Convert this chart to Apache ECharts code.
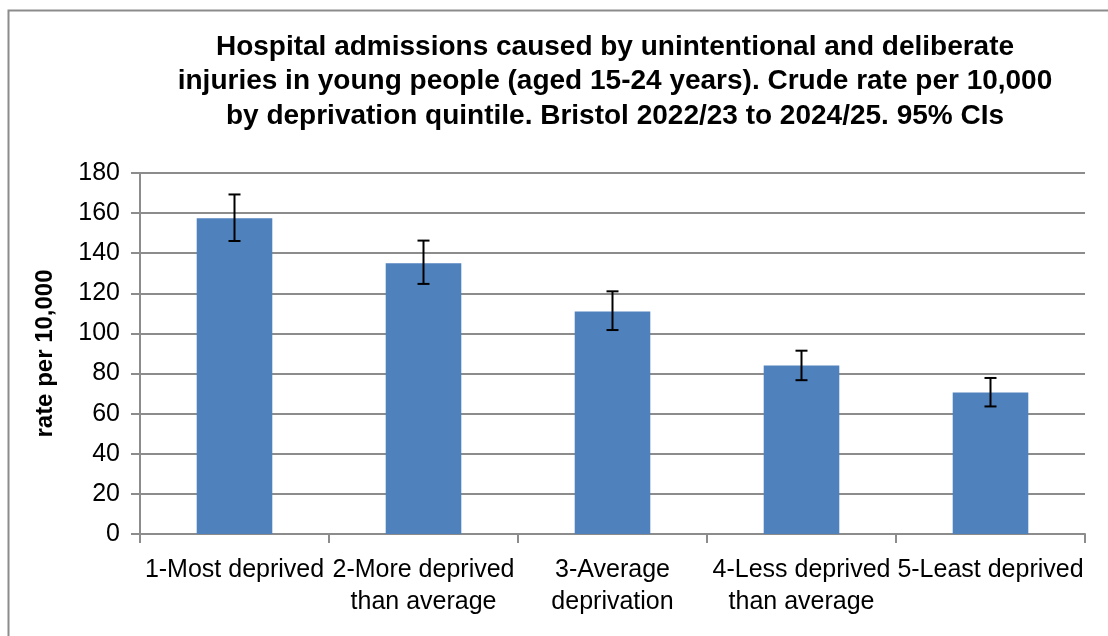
<!DOCTYPE html>
<html>
<head>
<meta charset="utf-8">
<script src="https://cdn.jsdelivr.net/npm/echarts@6/dist/echarts.min.js"></script>
<style>html,body{margin:0;padding:0;background:#fff}#c{width:1108px;height:636px}</style>
</head>
<body>
<div id="c"></div>
<script>
var categories = ['1-Most deprived', '2-More deprived\nthan average', '3-Average\ndeprivation', '4-Less deprived\nthan average', '5-Least deprived'];
var rates = [157.5, 135, 111, 84, 70.5];
var lowerCI = [146.1, 124.7, 101.7, 76.7, 63.6];
var upperCI = [169.3, 146.3, 121, 91.4, 77.8];
var yTicks = [0, 20, 40, 60, 80, 100, 120, 140, 160, 180];

var FONT = 'Liberation Sans';
var errData = categories.map(function (c, i) { return [i, lowerCI[i], upperCI[i]]; });

var chart = echarts.init(document.getElementById('c'));
chart.setOption({
  animation: false,
  backgroundColor: '#fff',
  graphic: [{
    type: 'rect', left: 6, top: 8, shape: { width: 1200, height: 700 },
    style: { fill: 'none', stroke: '#8c8c8c', lineWidth: 2 }, silent: true
  }],
  title: {
    text: 'Hospital admissions caused by unintentional and deliberate\ninjuries in young people (aged 15-24 years). Crude rate per 10,000\nby deprivation quintile. Bristol 2022/23 to 2024/25. 95% CIs',
    left: 610, top: 25, textAlign: 'center',
    textStyle: { fontFamily: FONT, fontWeight: 'bold', fontSize: 28, lineHeight: 34.5, color: '#000' }
  },
  grid: { left: 140, right: 23, top: 173, bottom: 102, containLabel: false },
  xAxis: {
    type: 'category', data: categories,
    axisLine: { lineStyle: { color: '#8c8c8c', width: 2 } },
    axisTick: { show: true, length: 9, lineStyle: { color: '#8c8c8c', width: 2 } },
    axisLabel: { fontFamily: FONT, fontSize: 25, color: '#000', margin: 20, lineHeight: 32, interval: 0 }
  },
  yAxis: {
    type: 'value', min: 0, max: 180, interval: 20,
    name: 'rate per 10,000', nameLocation: 'middle', nameGap: 83, nameRotate: 90,
    nameTextStyle: { fontFamily: FONT, fontWeight: 'bold', fontSize: 24, color: '#000' },
    axisLine: { show: true, lineStyle: { color: '#8c8c8c', width: 2 } },
    axisTick: { show: true, inside: false, length: 9, lineStyle: { color: '#8c8c8c', width: 2 } },
    splitLine: { lineStyle: { color: '#8c8c8c', width: 2 } },
    axisLabel: { fontFamily: FONT, fontSize: 25, color: '#000', margin: 20,
      formatter: function (v) { return yTicks.indexOf(v) >= 0 ? String(v) : ''; } }
  },
  series: [{
    type: 'bar', data: rates, barWidth: '40%',
    itemStyle: { color: '#4f81bd' }
  }, {
    type: 'custom', data: errData, z: 10,
    renderItem: function (params, api) {
      var x = api.value(0);
      var lo = api.coord([x, api.value(1)]);
      var hi = api.coord([x, api.value(2)]);
      var hw = 6;
      var st = { stroke: '#000', lineWidth: 2 };
      return { type: 'group', children: [
        { type: 'line', shape: { x1: lo[0], y1: lo[1], x2: hi[0], y2: hi[1] }, style: st },
        { type: 'line', shape: { x1: lo[0] - hw, y1: lo[1], x2: lo[0] + hw, y2: lo[1] }, style: st },
        { type: 'line', shape: { x1: hi[0] - hw, y1: hi[1], x2: hi[0] + hw, y2: hi[1] }, style: st }
      ]};
    }
  }]
});
</script>
</body>
</html>
